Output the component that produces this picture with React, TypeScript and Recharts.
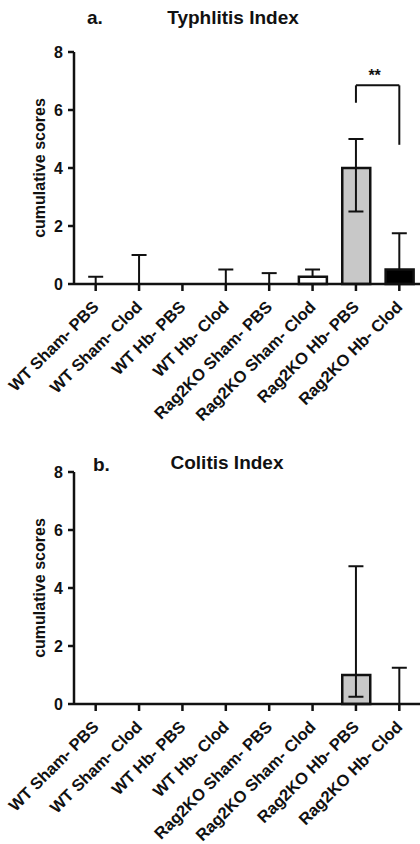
import React from 'react'
import { BarChart, Bar, XAxis, YAxis, Cell, ReferenceLine } from 'recharts'

const categories = [
  'WT Sham- PBS',
  'WT Sham- Clod',
  'WT Hb- PBS',
  'WT Hb- Clod',
  'Rag2KO Sham- PBS',
  'Rag2KO Sham- Clod',
  'Rag2KO Hb- PBS',
  'Rag2KO Hb- Clod',
]

// Typhlitis index (panel a)
const typhlitisMean = [0, 0, 0, 0, 0, 0.25, 4, 0.5]
const typhlitisUpper = [0.25, 1, 0, 0.5, 0.375, 0.5, 5, 1.75]
const typhlitisLower = [0, 0, 0, 0, 0, 0.25, 2.5, 0.5]

// Colitis index (panel b)
const colitisMean = [0, 0, 0, 0, 0, 0, 1, 0]
const colitisUpper = [0, 0, 0, 0, 0, 0, 4.75, 1.25]
const colitisLower = [0, 0, 0, 0, 0, 0, 0.25, 0]

const yTicks = [0, 2, 4, 6, 8]

// significance bracket between Rag2KO Hb- PBS and Rag2KO Hb- Clod
const bracketTop = 6.85
const bracketLeftEnd = 6.25
const bracketRightEnd = 4.8
const bracketLabel = '**'

const barFills = ['#ffffff', '#ffffff', '#ffffff', '#ffffff', '#ffffff', '#ffffff', '#c8c8c8', '#000000']

const FONT = '"Liberation Sans", Arial, Helvetica, sans-serif'
const W = 421
const H = 440
const CAP = 7.5

function buildRows(mean: number[], upper: number[], lower: number[]) {
  return categories.map((name, i) => ({
    name,
    value: mean[i],
    lower: lower[i],
    upper: upper[i],
  }))
}

const typhlitisData = buildRows(typhlitisMean, typhlitisUpper, typhlitisLower)
const colitisData = buildRows(colitisMean, colitisUpper, colitisLower)

function XTick({ x, y, payload }: any) {
  const ax = x + 4
  const ay = y + 15
  return (
    <text
      x={ax}
      y={ay}
      transform={`rotate(-45, ${ax}, ${ay})`}
      textAnchor="end"
      fontFamily={FONT}
      fontWeight={700}
      fontSize={16.5}
      fill="#111"
    >
      {payload.value}
    </text>
  )
}

function YLabel({ viewBox }: any) {
  const cy = viewBox && viewBox.height ? viewBox.y + viewBox.height / 2 : 168
  return (
    <text
      x={45}
      y={cy}
      transform={`rotate(-90, 45, ${cy})`}
      textAnchor="middle"
      fontFamily={FONT}
      fontWeight={700}
      fontSize={16}
      fill="#111"
    >
      cumulative scores
    </text>
  )
}

// stem from lower to upper, cap on top, cap at bottom only for two-sided errors
function ErrShape(props: any) {
  const { x1, y1, x2, y2, lowerCap } = props
  return (
    <g stroke="#111" strokeWidth={2}>
      <line x1={x1} y1={y1} x2={x2} y2={y2} />
      <line x1={x2 - CAP} y1={y2} x2={x2 + CAP} y2={y2} />
      {lowerCap && <line x1={x1 - CAP} y1={y1} x2={x1 + CAP} y2={y1} />}
    </g>
  )
}

function BracketTop(props: any) {
  const { x1, y1, x2, y2 } = props
  return (
    <g>
      <line x1={x1} y1={y1} x2={x2} y2={y2} stroke="#111" strokeWidth={2} />
      <text
        x={(x1 + x2) / 2 - 3}
        y={y1 - 4}
        textAnchor="middle"
        fontFamily={FONT}
        fontWeight={700}
        fontSize={16}
        fill="#111"
      >
        {bracketLabel}
      </text>
    </g>
  )
}

function IndexChart({ data, bracket }: { data: any[]; bracket?: boolean }) {
  return (
    <BarChart width={W} height={H} data={data} margin={{ top: 52, right: 0, bottom: 0, left: 0 }}>
      <XAxis
        dataKey="name"
        interval={0}
        height={156}
        tick={<XTick />}
        tickSize={7}
        axisLine={{ stroke: '#111', strokeWidth: 2.5 }}
        tickLine={{ stroke: '#111', strokeWidth: 2.5 }}
      />
      <YAxis
        width={74}
        domain={[0, 8]}
        ticks={yTicks}
        interval={0}
        tickSize={6}
        tickMargin={5}
        tick={{ fill: '#111', fontSize: 16, fontWeight: 700, fontFamily: FONT }}
        axisLine={{ stroke: '#111', strokeWidth: 2.5 }}
        tickLine={{ stroke: '#111', strokeWidth: 2.5 }}
        label={{ content: <YLabel /> }}
      />
      <Bar dataKey="value" barSize={28} stroke="#111" strokeWidth={2.5} isAnimationActive={false}>
        {data.map((d, i) => (
          <Cell key={d.name} fill={barFills[i]} />
        ))}
      </Bar>
      {data
        .filter((d) => d.upper > d.value || d.lower < d.value)
        .map((d) => (
          <ReferenceLine
            key={'err-' + d.name}
            segment={[
              { x: d.name, y: d.lower },
              { x: d.name, y: d.upper },
            ]}
            ifOverflow="visible"
            shape={<ErrShape lowerCap={d.lower < d.value} />}
          />
        ))}
      {bracket && (
        <ReferenceLine
          segment={[
            { x: categories[6], y: bracketLeftEnd },
            { x: categories[6], y: bracketTop },
          ]}
          stroke="#111"
          strokeWidth={2}
          ifOverflow="visible"
        />
      )}
      {bracket && (
        <ReferenceLine
          segment={[
            { x: categories[6], y: bracketTop },
            { x: categories[7], y: bracketTop },
          ]}
          ifOverflow="visible"
          shape={<BracketTop />}
        />
      )}
      {bracket && (
        <ReferenceLine
          segment={[
            { x: categories[7], y: bracketTop },
            { x: categories[7], y: bracketRightEnd },
          ]}
          stroke="#111"
          strokeWidth={2}
          ifOverflow="visible"
        />
      )}
    </BarChart>
  )
}

export default function App() {
  const titleStyle = { fontFamily: FONT, fontWeight: 700, fontSize: 19, fill: '#111' }
  return (
    <div style={{ position: 'absolute', left: 0, top: 0, width: 420, height: 844, overflow: 'hidden', background: '#fff' }}>
      <div style={{ position: 'absolute', left: 0, top: 0 }}>
        <IndexChart data={typhlitisData} bracket />
      </div>
      <div style={{ position: 'absolute', left: 0, top: 420 }}>
        <IndexChart data={colitisData} />
      </div>
      <svg width={420} height={844} style={{ position: 'absolute', left: 0, top: 0, pointerEvents: 'none' }}>
        <text x={87} y={24} {...titleStyle}>a.</text>
        <text x={233} y={24} textAnchor="middle" {...titleStyle}>Typhlitis Index</text>
        <text x={93} y={471} {...titleStyle}>b.</text>
        <text x={227} y={469} textAnchor="middle" {...titleStyle}>Colitis Index</text>
      </svg>
    </div>
  )
}
